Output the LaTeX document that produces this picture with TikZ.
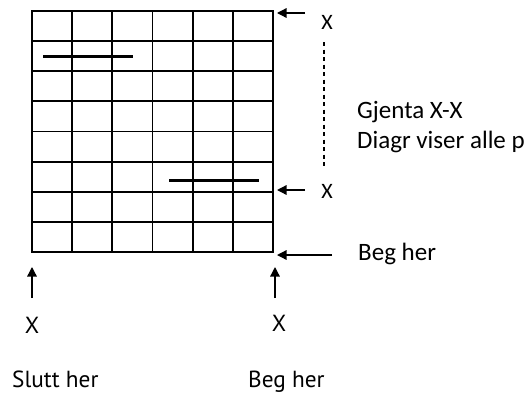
\documentclass[tikz,border=0pt]{standalone}
\usepackage{fontspec}
\setmainfont{Carlito}
\newfontfamily\botfont{PT Sans}
\usetikzlibrary{arrows.meta}
\tikzset{
  gridline/.style={line width=1.9pt},
  barline/.style={line width=3pt},
  arr/.style={line width=1.3pt,-{Triangle[length=9.5pt,width=9.5pt]}},
  dashline/.style={line width=1.5pt,dash pattern=on 4pt off 3.5pt},
  toplabel/.style={inner sep=0pt,font=\fontsize{25}{29}\selectfont},
  xlabel/.style={inner sep=0pt,font=\fontsize{22}{26}\selectfont},
  botlabel/.style={inner sep=0pt,font=\botfont\fontsize{23.3}{27}\selectfont},
}
\begin{document}
\begin{tikzpicture}[x=1pt,y=-1pt]
\useasboundingbox (0,0) rectangle (524,394);
% grid
\draw[gridline] (32,11) rectangle (273,252);
\foreach \i in {1,...,5} \draw[gridline] ({32+\i*40.17},11) -- ({32+\i*40.17},252);
\foreach \j in {1,...,7} \draw[gridline] (32,{11+\j*30.125}) -- (273,{11+\j*30.125});
% bars
\draw[barline] (43,56) -- (133,56);
\draw[barline] (169,180) -- (259,180);
% arrow coordinates
\coordinate (t1) at (277,13);  \coordinate (s1) at (305,13);
\coordinate (t2) at (277,190); \coordinate (s2) at (305,190);
\coordinate (t3) at (277,255); \coordinate (s3) at (332,255);
\coordinate (t4) at (32,267);  \coordinate (s4) at (32,298);
\coordinate (t5) at (275,267); \coordinate (s5) at (275,298);
\draw[arr] (s1) -- (t1);
\draw[arr] (s2) -- (t2);
\draw[arr] (s3) -- (t3);
\draw[arr] (s4) -- (t4);
\draw[arr] (s5) -- (t5);
% dashed
\coordinate (d1) at (324,42); \coordinate (d2) at (324,167);
\draw[dashline] (d1) -- (d2);
% labels
\node[xlabel] (xa) at (327,22) {X};
\node[xlabel] (xb) at (327,191) {X};
\node[toplabel,anchor=base west] (gj) at (357,118) {Gjenta X-X};
\node[toplabel,anchor=base west] (di) at (357,148) {Diagr viser alle p};
\node[toplabel,anchor=base west] (bh1) at (358,260) {Beg her};
\node[botlabel] (xc) at (32,325) {X};
\node[botlabel] (xd) at (279,323) {X};
\node[botlabel,anchor=base west] (sl) at (12,387) {Slutt her};
\node[botlabel,anchor=base west] (bh2) at (248,387) {Beg her};
\end{tikzpicture}
\end{document}
